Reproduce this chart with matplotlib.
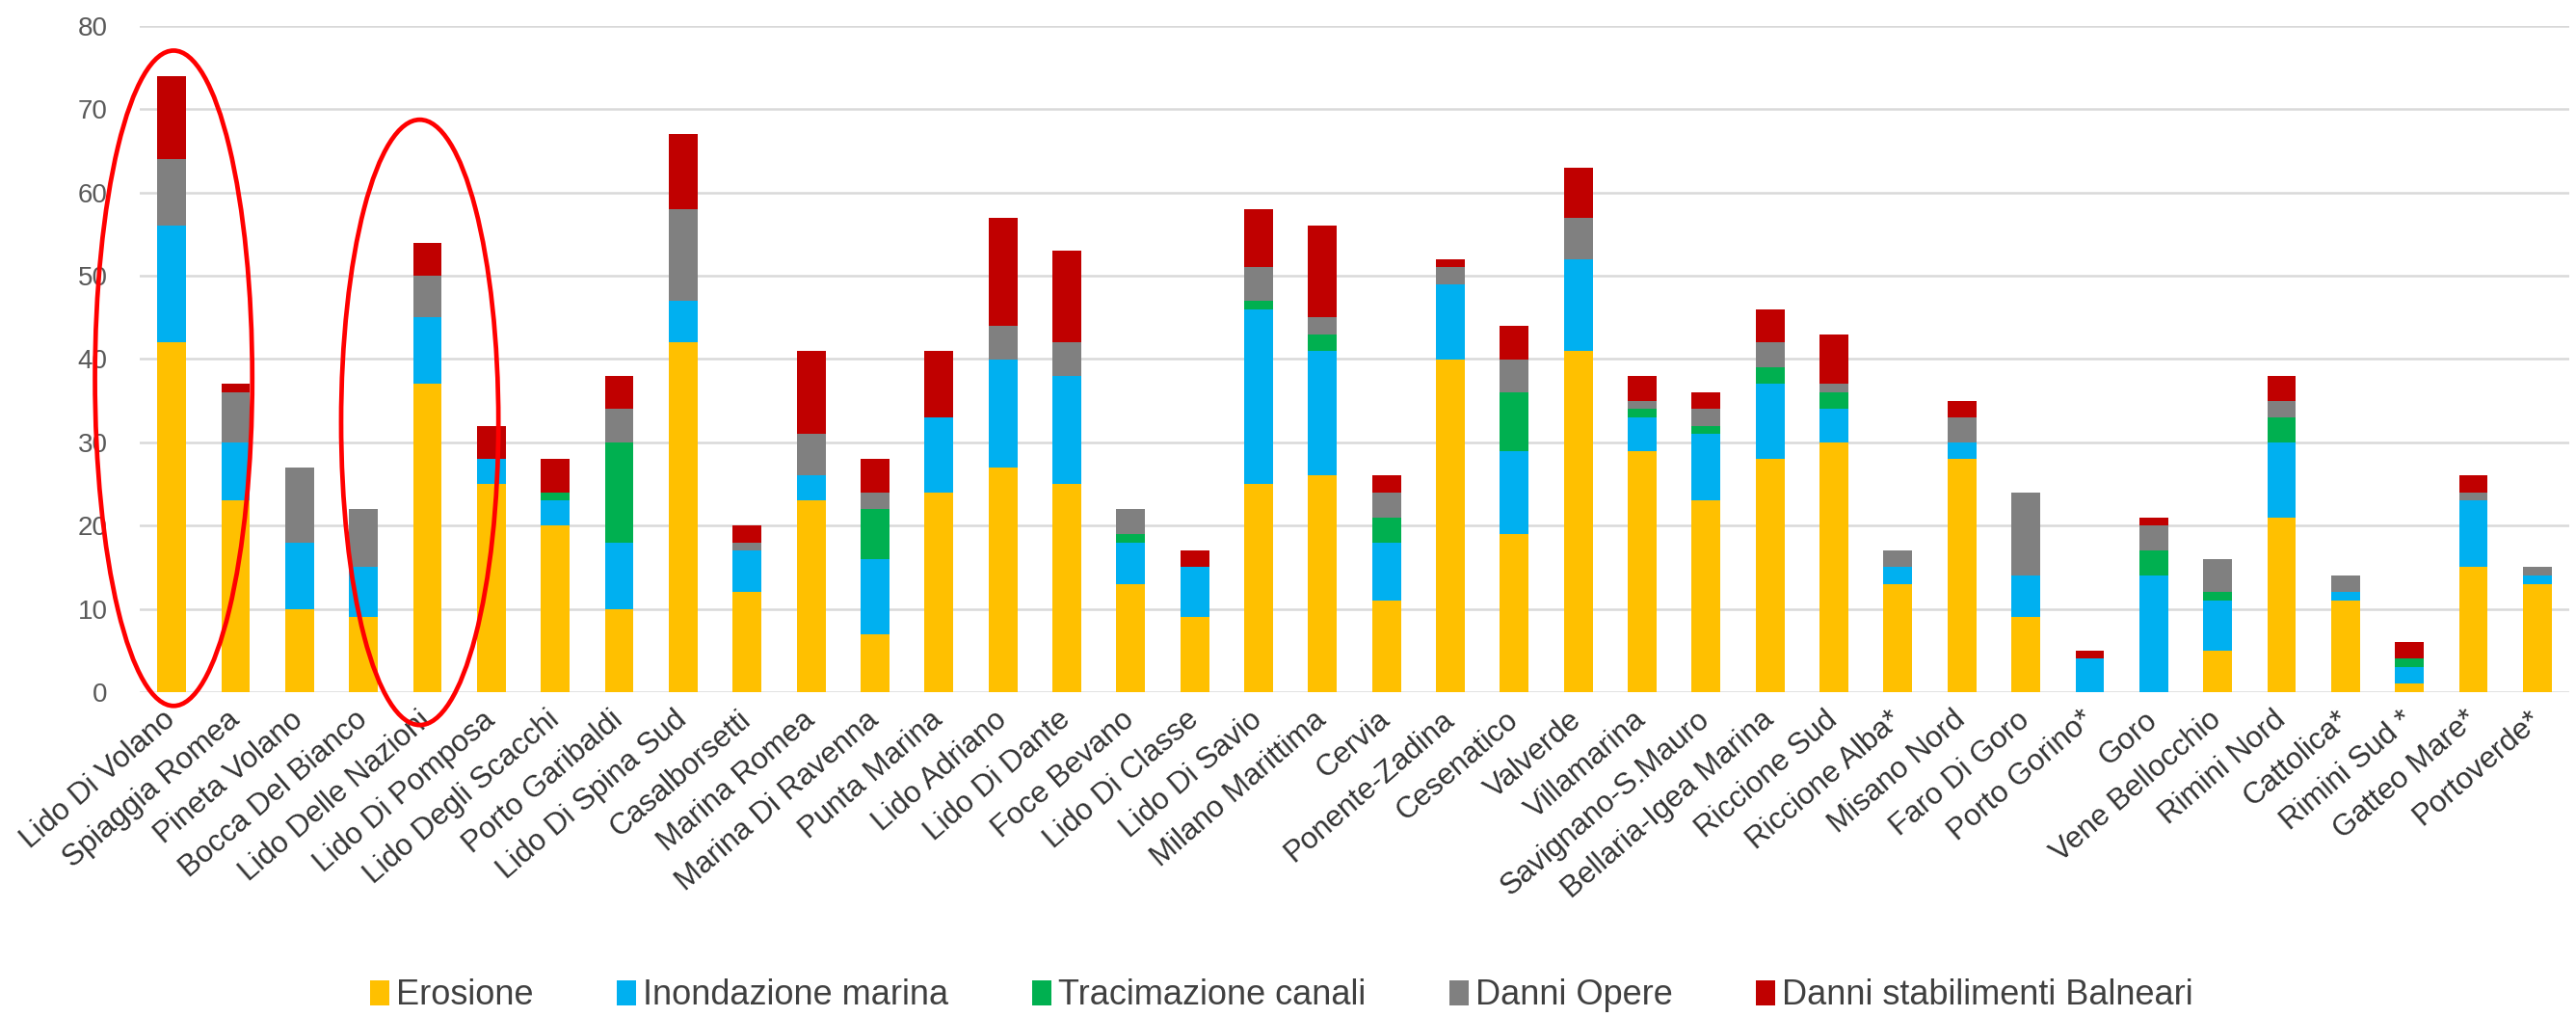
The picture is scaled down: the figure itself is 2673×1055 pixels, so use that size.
import numpy as np
import matplotlib
matplotlib.use('Agg')
import matplotlib.pyplot as plt
from matplotlib.patches import Ellipse

plt.rcParams['font.family'] = ['Liberation Sans', 'DejaVu Sans']

localita = ['Lido Di Volano', 'Spiaggia Romea', 'Pineta Volano', 'Bocca Del Bianco',
            'Lido Delle Nazioni', 'Lido Di Pomposa', 'Lido Degli Scacchi', 'Porto Garibaldi',
            'Lido Di Spina Sud', 'Casalborsetti', 'Marina Romea', 'Marina Di Ravenna',
            'Punta Marina', 'Lido Adriano', 'Lido Di Dante', 'Foce Bevano', 'Lido Di Classe',
            'Lido Di Savio', 'Milano Marittima', 'Cervia', 'Ponente-Zadina', 'Cesenatico',
            'Valverde', 'Villamarina', 'Savignano-S.Mauro', 'Bellaria-Igea Marina',
            'Riccione Sud', 'Riccione Alba*', 'Misano Nord', 'Faro Di Goro', 'Porto Gorino*',
            'Goro', 'Vene Bellocchio', 'Rimini Nord', 'Cattolica*', 'Rimini Sud *',
            'Gatteo Mare*', 'Portoverde*']

erosione =      [42, 23, 10, 9, 37, 25, 20, 10, 42, 12, 23, 7, 24, 27, 25, 13, 9, 25, 26, 11,
                 40, 19, 41, 29, 23, 28, 30, 13, 28, 9, 0, 0, 5, 21, 11, 1, 15, 13]
inondazione =   [14, 7, 8, 6, 8, 3, 3, 8, 5, 5, 3, 9, 9, 13, 13, 5, 6, 21, 15, 7,
                 9, 10, 11, 4, 8, 9, 4, 2, 2, 5, 4, 14, 6, 9, 1, 2, 8, 1]
tracimazione =  [0, 0, 0, 0, 0, 0, 1, 12, 0, 0, 0, 6, 0, 0, 0, 1, 0, 1, 2, 3,
                 0, 7, 0, 1, 1, 2, 2, 0, 0, 0, 0, 3, 1, 3, 0, 1, 0, 0]
danni_opere =   [8, 6, 9, 7, 5, 0, 0, 4, 11, 1, 5, 2, 0, 4, 4, 3, 0, 4, 2, 3,
                 2, 4, 5, 1, 2, 3, 1, 2, 3, 10, 0, 3, 4, 2, 2, 0, 1, 1]
danni_balneari = [10, 1, 0, 0, 4, 4, 4, 4, 9, 2, 10, 4, 8, 13, 11, 0, 2, 7, 11, 2,
                  1, 4, 6, 3, 2, 4, 6, 0, 2, 0, 1, 1, 0, 3, 0, 2, 2, 0]

serie = [('Erosione', erosione, '#FFC000'),
         ('Inondazione marina', inondazione, '#00B0F0'),
         ('Tracimazione canali', tracimazione, '#00B050'),
         ('Danni Opere', danni_opere, '#808080'),
         ('Danni stabilimenti Balneari', danni_balneari, '#C00000')]

W, H = 2673, 1055
fig = plt.figure(figsize=(W / 100, H / 100), dpi=100)
ax = fig.add_axes([145 / W, 1 - 718 / H, (2666 - 145) / W, (718 - 27) / H])

x = np.arange(len(localita))
bottom = np.zeros(len(localita))
for nome, valori, colore in serie:
    ax.bar(x, valori, 0.45, bottom=bottom, color=colore, label=nome, zorder=3)
    bottom += np.array(valori)

ax.set_xlim(-0.5, len(localita) - 0.5)
ax.set_ylim(0, 80)
ax.set_yticks(range(0, 81, 10))
ax.yaxis.grid(True, color='#d9d9d9', linewidth=1.8, zorder=0)
ax.set_axisbelow(True)
for s in ax.spines.values():
    s.set_visible(False)
ax.tick_params(axis='both', length=0)
ax.tick_params(axis='y', labelsize=20, labelcolor='#595959', pad=24)
ax.set_xticks(x)
ax.set_xticklabels(localita, rotation=41, ha='right', va='center',
                   rotation_mode='anchor', fontsize=22.5, color='#333333')
ax.tick_params(axis='x', pad=18)

# ellissi rosse di evidenziazione
for cx, cy, h in [(0.03, 37.7, 78.7), (3.88, 32.4, 72.7)]:
    ax.add_patch(Ellipse((cx, cy), 2.46, h, fill=False, edgecolor='#FF0000',
                         linewidth=3.4, clip_on=False, zorder=5))

fig.legend(loc='center', bbox_to_anchor=(0.4975, 0.021), ncol=5, frameon=False,
           fontsize=26, handlelength=0.55, handleheight=0.75, handletextpad=0.2,
           columnspacing=2.4, labelcolor='#404040')

fig.savefig('out.png', dpi=100, facecolor='white')
